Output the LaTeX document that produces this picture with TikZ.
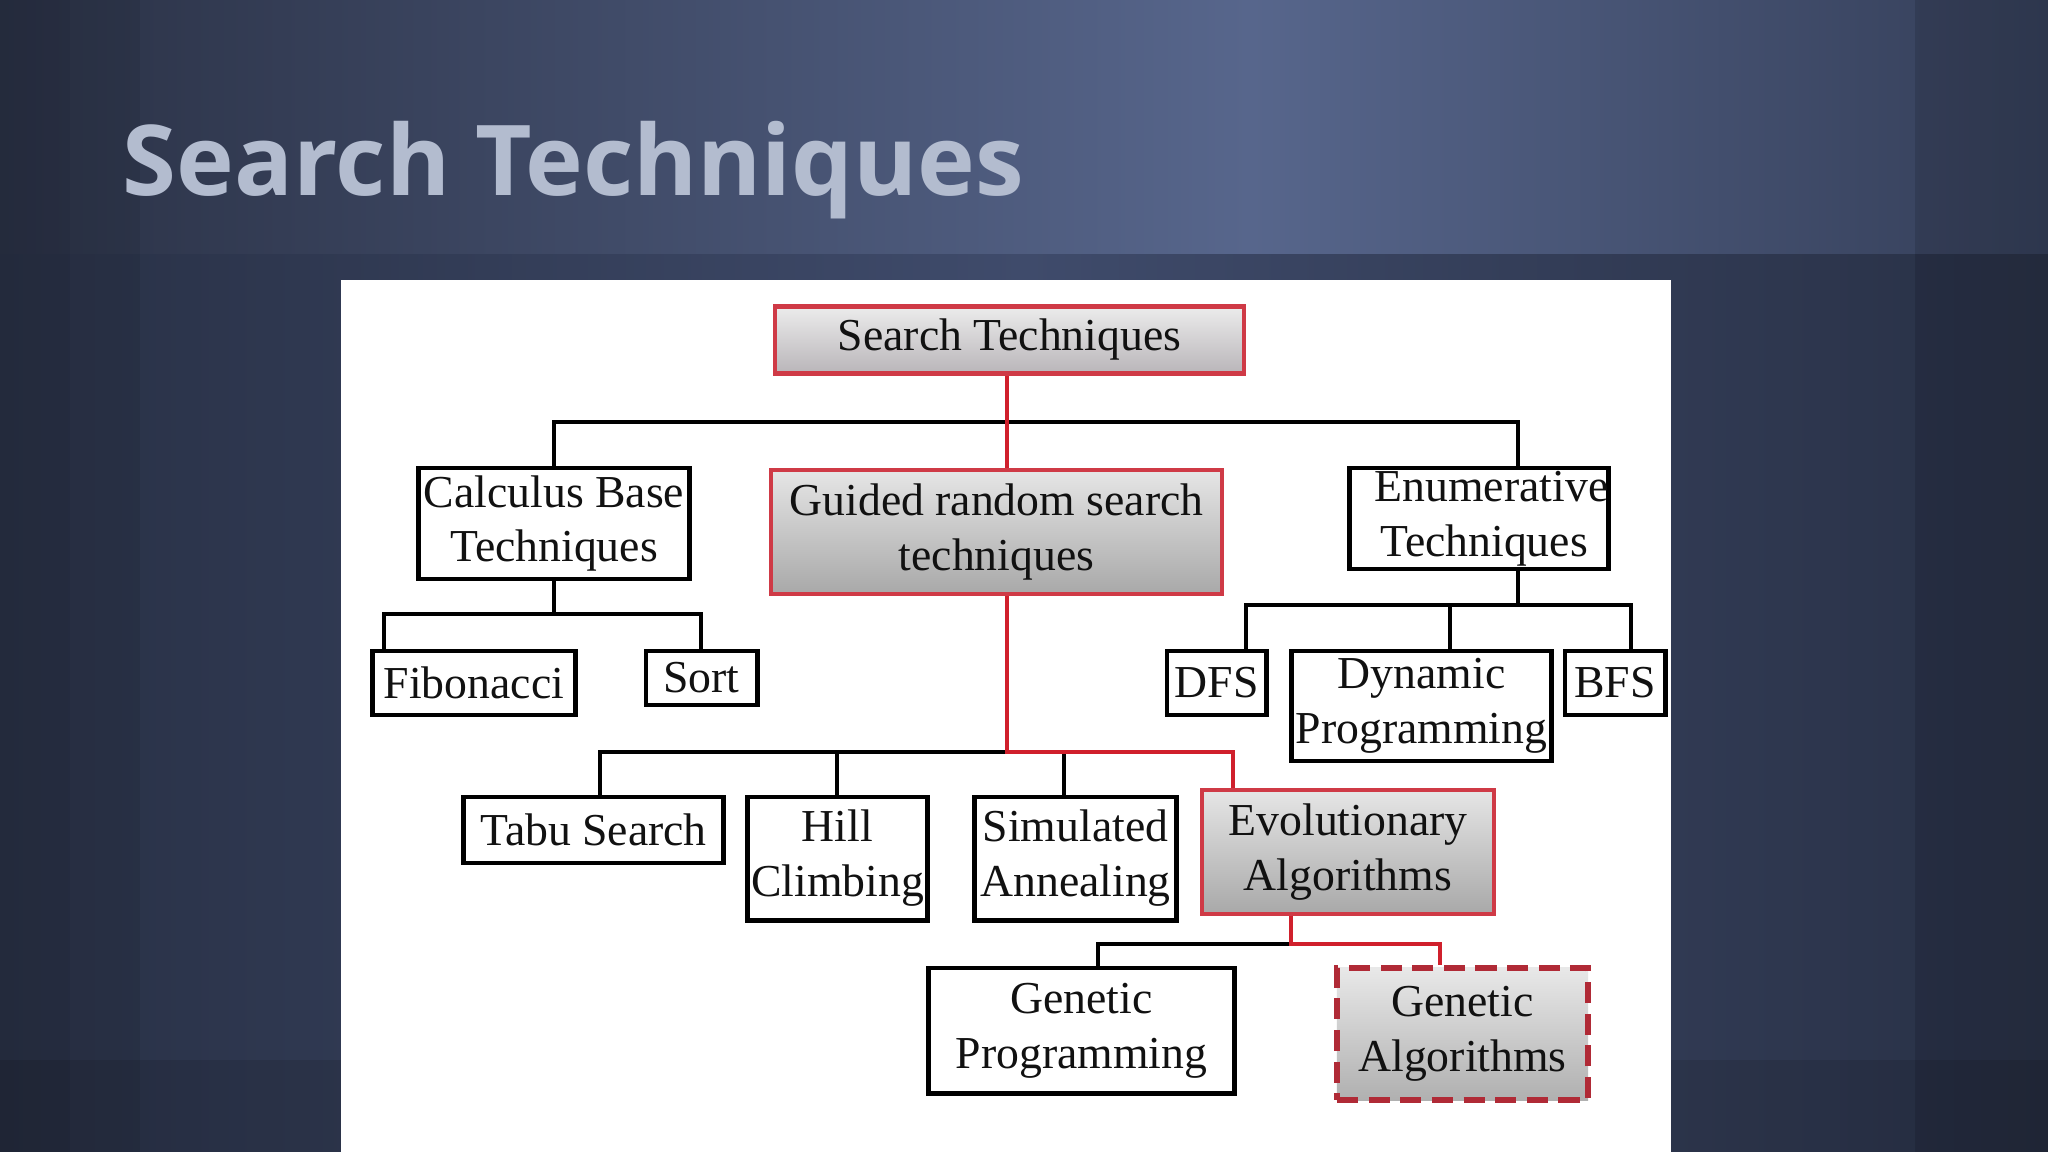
\documentclass[tikz,border=0pt]{standalone}
\usepackage{fontspec}
\setmainfont{Liberation Serif}
\newfontfamily\titlefont{Open Sans}
\usetikzlibrary{calc}
\definecolor{bgA}{HTML}{2A3145}
\definecolor{bgB}{HTML}{57668C}
\definecolor{bgC}{HTML}{343E58}
\definecolor{bgD}{HTML}{283045}
\definecolor{bgE}{HTML}{3F4B6B}
\definecolor{titlecol}{HTML}{B3BCCF}
\definecolor{redline}{HTML}{D0202C}
\definecolor{redbox}{HTML}{CF3A46}
\definecolor{reddash}{HTML}{B02A36}
\definecolor{txt}{HTML}{111111}
\tikzset{
  boxtext/.style={font=\fontsize{13}{15.6}\selectfont, text=txt, align=center, inner sep=0pt},
  wbox/.style={boxtext, rectangle, draw=black, line width=1.4pt, fill=white},
  gbox/.style={boxtext, rectangle, draw=redbox, line width=1pt, top color=gray!20, bottom color=gray!68},
  dbox/.style={boxtext, rectangle, draw=reddash, line width=1.8pt, dash pattern=on 6pt off 3pt, top color=gray!18, bottom color=gray!62},
  blk/.style={draw=black, line width=1.4pt, line join=miter},
  rln/.style={draw=redline, line width=1.1pt, line join=miter},
}
\begin{document}
\begin{tikzpicture}[x=0.01cm, y=-0.01cm]
\useasboundingbox (0,0) rectangle (2048,1152);
% background
\fill[bgD] (0,0) rectangle (2048,1152);
\shade[left color=bgA, right color=bgB] (0,0) rectangle (1250,255);
\shade[left color=bgB, right color=bgC] (1250,0) rectangle (2048,255);
\shade[left color=bgD, right color=bgE] (0,255) rectangle (1024,1152);
\shade[left color=bgE, right color=bgD] (1024,255) rectangle (2048,1152);
\fill[black, opacity=0.12] (0,0) rectangle (70,1152);
\fill[black, opacity=0.07] (70,0) rectangle (140,1152);
\fill[black, opacity=0.12] (1915,0) rectangle (2048,1152);
\fill[black, opacity=0.10] (0,1060) rectangle (341,1152);
\fill[black, opacity=0.10] (1671,1060) rectangle (2048,1152);
% title
\node[anchor=base west, inner sep=0pt, text=titlecol, font=\titlefont\bfseries\fontsize{27.8}{33}\selectfont] (title) at (122,196) {Search Techniques};
% panel
\fill[white] (341,280) rectangle (1671,1152);
% nodes
\node[gbox, draw=redbox, line width=1.3pt, top color=gray!15, bottom color=gray!45!violet!10!gray!55, minimum width=4.69cm, minimum height=0.67cm] (root) at (1009.5,340) {Search Techniques};
\node[wbox, minimum width=2.70cm, minimum height=1.11cm] (calc) at (554,523.5) {Calculus Base\\Techniques};
\node[gbox, minimum width=4.51cm, minimum height=1.24cm] (guided) at (996.5,532) {Guided random search\\techniques};
\node[wbox, minimum width=2.58cm, minimum height=1.01cm] (enum) at (1479,518.5) {\hspace*{0.25cm}Enumerative\\\hspace*{0.1cm}Techniques};
\node[wbox, minimum width=2.02cm, minimum height=0.64cm] (fib) at (474,683) {Fibonacci};
\node[wbox, minimum width=1.11cm, minimum height=0.54cm] (sort) at (701.5,678) {Sort};
\node[wbox, minimum width=0.99cm, minimum height=0.64cm] (dfs) at (1216.5,683) {DFS};
\node[wbox, minimum width=2.59cm, minimum height=1.10cm] (dp) at (1421.5,706) {Dynamic\\Programming};
\node[wbox, minimum width=1.00cm, minimum height=0.64cm] (bfs) at (1615,683) {BFS};
\node[wbox, minimum width=2.59cm, minimum height=0.66cm] (tabu) at (593.5,830) {Tabu Search};
\node[wbox, minimum width=1.79cm, minimum height=1.23cm] (hill) at (837.5,858.5) {Hill\\Climbing};
\node[wbox, minimum width=2.01cm, minimum height=1.23cm] (sim) at (1075.5,858.5) {Simulated\\Annealing};
\node[gbox, minimum width=2.92cm, minimum height=1.24cm] (evo) at (1348,852) {Evolutionary\\Algorithms};
\node[wbox, minimum width=3.05cm, minimum height=1.25cm] (gp) at (1081.5,1030.5) {Genetic\\Programming};
\node[dbox, minimum width=2.51cm, minimum height=1.32cm] (ga) at (1462.5,1034) {Genetic\\Algorithms};
% helper coordinates
\coordinate (xE) at (1518,0);
\coordinate (xDFS) at (1246,0);
\coordinate (xDP) at (1450,0);
\coordinate (xBFS) at (1631,0);
\coordinate (xR) at (1007,0);
\coordinate (xTabu) at (600,0);
\coordinate (xHill) at (837,0);
\coordinate (xSim) at (1064,0);
\coordinate (xEvo) at (1233,0);
\coordinate (xEd) at (1291,0);
\coordinate (xGP) at (1098,0);
\coordinate (xGA) at (1440,0);
\coordinate (xFib) at (384,0);
\coordinate (xSort) at (701,0);
% black connectors
\draw[blk] (calc.north) -- (calc.north |- 0,422) -- (xE |- 0,422) -- (xE |- enum.north);
\draw[blk] (calc.south) -- (calc.south |- 0,614);
\draw[blk] (xFib |- fib.north) -- (xFib |- 0,614) -- (xSort |- 0,614) -- (xSort |- sort.north);
\draw[blk] (xE |- enum.south) -- (xE |- 0,605);
\draw[blk] (xDFS |- dfs.north) -- (xDFS |- 0,605) -- (xBFS |- 0,605) -- (xBFS |- bfs.north);
\draw[blk] (xDP |- 0,605) -- (xDP |- dp.north);
\draw[blk] (xTabu |- tabu.north) -- (xTabu |- 0,752) -- (xR |- 0,752);
\draw[blk] (xHill |- 0,752) -- (xHill |- hill.north);
\draw[blk] (xSim |- 0,752) -- (xSim |- sim.north);
\draw[blk] (xGP |- gp.north) -- (xGP |- 0,944) -- (xEd |- 0,944);
% red connectors
\draw[rln] (xR |- root.south) -- (xR |- guided.north);
\draw[rln] (xR |- guided.south) -- (xR |- 0,752) -- (xEvo |- 0,752) -- (xEvo |- evo.north);
\draw[rln] (xEd |- evo.south) -- (xEd |- 0,944) -- (xGA |- 0,944) -- (xGA |- ga.north);
\end{tikzpicture}
\end{document}
